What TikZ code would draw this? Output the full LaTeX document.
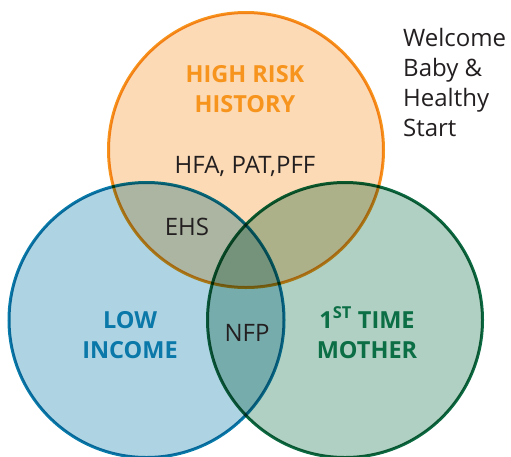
\documentclass[tikz,border=0pt]{standalone}
\usepackage{fontspec}
\setmainfont{Open Sans}
\definecolor{orS}{HTML}{F7941D}
\definecolor{orF}{HTML}{FBDAB5}
\definecolor{blS}{HTML}{0A7CAB}
\definecolor{blF}{HTML}{AED4E3}
\definecolor{grS}{HTML}{0D6B43}
\definecolor{grF}{HTML}{AFD0C2}
\definecolor{txt}{HTML}{231F20}
\definecolor{orT}{HTML}{F7941D}
\definecolor{blT}{HTML}{0A78A8}
\definecolor{grT}{HTML}{0B6E45}
\begin{document}
\begin{tikzpicture}[x=1pt,y=-1pt,
  setc/.style={circle,minimum size=275pt,inner sep=0pt,line width=3pt},
  head/.style={font=\fontsize{23.5}{30}\selectfont\bfseries,align=center,anchor=base},
  lbl/.style={font=\fontsize{24}{30}\selectfont,text=txt,anchor=base}]
\useasboundingbox (0,0) rectangle (511,456);
\begin{scope}[blend group=multiply]
  \node[setc,draw=blS,fill=blF] (low) at (146.5,320) {};
  \node[setc,draw=grS,fill=grF] (first) at (345,320) {};
  \node[setc,draw=orS,fill=orF] (high) at (246,150) {};
\end{scope}
\node[head,text=orT] (hrh) at (245,112) {HIGH RISK\\HISTORY};
\node[lbl] (hfa) at (245,173) {HFA, PAT,PFF};
\node[lbl] (ehs) at (187,235) {EHS};
\node[lbl] (nfp) at (247,341) {NFP};
\node[head,text=blT] (li) at (130,358) {LOW\\INCOME};
\node[head,text=grT] (ftm) at (367,358) {1\textsuperscript{ST} TIME\\MOTHER};
\node[lbl,align=left,anchor=base west,inner sep=0pt] (wb) at (403,136) {Welcome\\Baby \&\\Healthy\\Start};
\end{tikzpicture}
\end{document}
